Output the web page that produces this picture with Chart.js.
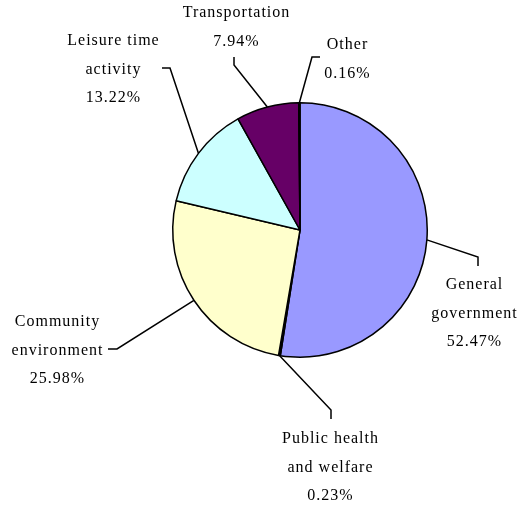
<!DOCTYPE html>
<html>
<head>
<meta charset="utf-8">
<script src="https://cdn.jsdelivr.net/npm/chart.js@4"></script>
<style>
  html, body { margin: 0; padding: 0; background: #fff; }
  #wrap { width: 529px; height: 506px; }
</style>
</head>
<body>
<div id="wrap"><canvas id="pie"></canvas></div>
<script>
    'use strict';

    // data
    var categories = ['General government', 'Public health and welfare', 'Community environment',
        'Leisure time activity', 'Transportation', 'Other'];
    var shares = [52.47, 0.23, 25.98, 13.22, 7.94, 0.16];
    var labelLines = [
        ['General', 'government'],
        ['Public health', 'and welfare'],
        ['Community', 'environment'],
        ['Leisure time', 'activity'],
        ['Transportation'],
        ['Other']
    ];
    var sliceColors = ['#9999FF', '#000000', '#FFFFCC', '#CCFFFF', '#660066', '#000000'];

    // where each label and its leader line sit
    var labelLayout = [
        { elbow: [478, 257], end: [478, 266], tx: 474, ty: 285 },
        { elbow: [331, 410], end: [331, 419], tx: 330, ty: 439 },
        { elbow: [117, 349], end: [108, 349], tx: 57, ty: 322 },
        { elbow: [170, 68], end: [162, 68], tx: 113, ty: 41 },
        { elbow: [234, 65], end: [234, 57], tx: 236, ty: 13 },
        { elbow: [312, 57], end: [320, 57], tx: 347, ty: 45 }
    ];
    var lineGap = 28.5;

    var leaderLabels = {
        id: 'leaderLabels',
        afterDraw: function(chart) {
            var ctx = chart.ctx;
            var meta = chart.getDatasetMeta(0);
            ctx.save();
            ctx.strokeStyle = '#000';
            ctx.lineWidth = 1.5;
            ctx.fillStyle = '#000';
            ctx.font = '16px "Liberation Serif"';
            ctx.letterSpacing = '1px';
            ctx.textAlign = 'center';
            ctx.textBaseline = 'middle';
            meta.data.forEach(function(arc, i) {
                var p = arc.getProps(['x', 'y', 'startAngle', 'endAngle', 'outerRadius'], true);
                var mid = (p.startAngle + p.endAngle) / 2;
                var sx = p.x + Math.cos(mid) * p.outerRadius;
                var sy = p.y + Math.sin(mid) * p.outerRadius;
                var lay = labelLayout[i];
                ctx.beginPath();
                ctx.moveTo(sx, sy);
                ctx.lineTo(lay.elbow[0], lay.elbow[1]);
                ctx.lineTo(lay.end[0], lay.end[1]);
                ctx.stroke();

                var lines = labelLines[i].concat([shares[i].toFixed(2) + '%']);
                lines.forEach(function(txt, k) {
                    ctx.fillText(txt, lay.tx + 0.5, lay.ty + k * lineGap);
                });
            });
            ctx.restore();
        }
    };

    new Chart(document.getElementById('pie'), {
        type: 'pie',
        data: {
            labels: categories,
            datasets: [{
                data: shares,
                backgroundColor: sliceColors,
                borderColor: '#000',
                borderWidth: 1.5
            }]
        },
        options: {
            responsive: true,
            maintainAspectRatio: false,
            animation: false,
            layout: { padding: { left: 172, right: 101, top: 102, bottom: 148 } },
            plugins: {
                legend: { display: false },
                tooltip: { enabled: false }
            }
        },
        plugins: [leaderLabels]
    });
</script>
</body>
</html>
